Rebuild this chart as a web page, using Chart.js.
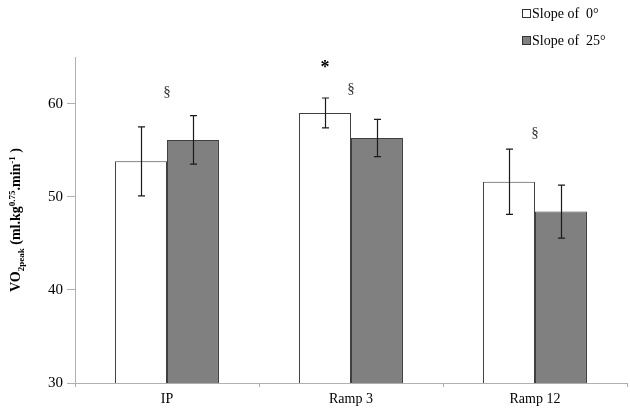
<!DOCTYPE html>
<html>
<head>
<meta charset="utf-8">
<script src="https://cdn.jsdelivr.net/npm/chart.js@4.4.0/dist/chart.umd.min.js"></script>
<style>
    html, body { margin: 0; padding: 0; background: #fff; }
    #wrap { position: relative; width: 630px; height: 409px; }
</style>
</head>
<body>
<div id="wrap"><canvas id="vo2Chart"></canvas></div>
<script>
// 데이터
const categories = ['IP', 'Ramp 3', 'Ramp 12'];
const seriesNames = ['Slope of  0°', 'Slope of  25°'];
const slope0 = [53.8, 59.0, 51.6];
const slope25 = [56.1, 56.3, 48.4];
const slope0Err = [3.7, 1.6, 3.5];
const slope25Err = [2.6, 2.0, 2.85];
const yTicks = [30, 40, 50, 60];

// 유의성 표시 (기호, 카테고리, 값 위치)
const sectionMarks = ['§', '§', '§'];
const sectionMarkAt = [61.2, 61.6, 56.8];
const starMarks = ['', '*', ''];
const starMarkAt = [64.1, 64.1, 64.1];

const SERIF = '"Liberation Serif", "Times New Roman", serif';

// 에러바 플러그인
const errorBars = {
    id: 'errorBars',
    afterDatasetsDraw(chart) {
        const ctx = chart.ctx;
        const y = chart.scales.y;
        const errs = [slope0Err, slope25Err];
        ctx.save();
        ctx.strokeStyle = '#1a1a1a';
        ctx.lineWidth = 1.2;
        chart.data.datasets.forEach((ds, di) => {
            chart.getDatasetMeta(di).data.forEach((bar, i) => {
                const x = Math.round(bar.x) + 0.5;
                const top = y.getPixelForValue(ds.data[i] + errs[di][i]);
                const bot = y.getPixelForValue(ds.data[i] - errs[di][i]);
                ctx.beginPath();
                ctx.moveTo(x, top); ctx.lineTo(x, bot);
                ctx.moveTo(x - 3.5, top); ctx.lineTo(x + 3.5, top);
                ctx.moveTo(x - 3.5, bot); ctx.lineTo(x + 3.5, bot);
                ctx.stroke();
            });
        });
        ctx.restore();
    }
};

// 유의성 기호 + 축 제목 + 범례
const extras = {
    id: 'extras',
    afterDraw(chart) {
        const ctx = chart.ctx;
        const xs = chart.scales.x;
        const y = chart.scales.y;
        ctx.save();
        ctx.textAlign = 'center';
        ctx.textBaseline = 'middle';

        ctx.fillStyle = '#333';
        ctx.font = '15px ' + SERIF;
        sectionMarks.forEach((m, i) => {
            if (!m) return;
            ctx.fillText(m, xs.getPixelForValue(i), y.getPixelForValue(sectionMarkAt[i]));
        });
        ctx.fillStyle = '#000';
        ctx.font = 'bold 18px ' + SERIF;
        const bars0 = chart.getDatasetMeta(0).data;
        starMarks.forEach((m, i) => {
            if (!m) return;
            ctx.fillText(m, bars0[i].x, y.getPixelForValue(starMarkAt[i]) + 3);
        });

        // y축 제목 (아래첨자/위첨자)
        const parts = [
            ['VO', 14, 0], ['2peak', 9, 4], [' (ml.kg', 14, 0], ['0.75', 9, -5],
            ['.min', 14, 0], ['-1', 9, -5], [' )', 14, 0]
        ];
        let total = 0;
        parts.forEach(p => {
            ctx.font = 'bold ' + p[1] + 'px ' + SERIF;
            total += ctx.measureText(p[0]).width;
        });
        ctx.translate(20, (y.top + y.bottom) / 2);
        ctx.rotate(-Math.PI / 2);
        ctx.textAlign = 'left';
        ctx.textBaseline = 'alphabetic';
        let cx = -total / 2;
        parts.forEach(p => {
            ctx.font = 'bold ' + p[1] + 'px ' + SERIF;
            ctx.fillText(p[0], cx, p[2]);
            cx += ctx.measureText(p[0]).width;
        });
        ctx.restore();

        // 범례
        ctx.save();
        ctx.font = '14px ' + SERIF;
        ctx.textBaseline = 'middle';
        ctx.textAlign = 'left';
        const fills = ['#ffffff', '#808080'];
        seriesNames.forEach((name, i) => {
            const ly = 13 + i * 27;
            ctx.fillStyle = fills[i];
            ctx.fillRect(522.5, ly - 3.5, 8, 8);
            ctx.strokeStyle = '#333';
            ctx.lineWidth = 1;
            ctx.strokeRect(522.5, ly - 3.5, 8, 8);
            ctx.fillStyle = '#000';
            ctx.fillText(name, 532, ly + 1);
        });
        ctx.restore();
    }
};

new Chart(document.getElementById('vo2Chart'), {
    type: 'bar',
    data: {
        labels: categories,
        datasets: [
            {
                label: seriesNames[0],
                data: slope0,
                backgroundColor: '#ffffff',
                borderColor: '#404040',
                borderWidth: 1
            },
            {
                label: seriesNames[1],
                data: slope25,
                backgroundColor: '#808080',
                borderColor: '#404040',
                borderWidth: 1
            }
        ]
    },
    options: {
        responsive: true,
        maintainAspectRatio: false,
        animation: false,
        categoryPercentage: 0.565,
        barPercentage: 1.0,
        layout: { padding: { top: 57, right: 3, left: 0, bottom: 0 } },
        plugins: {
            legend: { display: false },
            tooltip: { enabled: false }
        },
        scales: {
            x: {
                grid: {
                    offset: true,
                    drawOnChartArea: false,
                    drawTicks: true,
                    tickLength: 4,
                    color: '#b0b0b0'
                },
                border: { color: '#b0b0b0', width: 1 },
                ticks: {
                    color: '#000',
                    padding: 4,
                    font: { family: SERIF, size: 14 }
                },
                afterFit(scale) { scale.height = 26; }
            },
            y: {
                min: 30,
                max: 65,
                grid: {
                    drawOnChartArea: false,
                    drawTicks: true,
                    tickLength: 8,
                    color: '#b0b0b0'
                },
                border: { color: '#b0b0b0', width: 1 },
                ticks: {
                    stepSize: 10,
                    includeBounds: false,
                    color: '#000',
                    padding: 4,
                    font: { family: SERIF, size: 15 },
                    callback: v => yTicks.includes(v) ? v : ''
                },
                afterFit(scale) { scale.width = 75; }
            }
        }
    },
    plugins: [errorBars, extras]
});
</script>
</body>
</html>
